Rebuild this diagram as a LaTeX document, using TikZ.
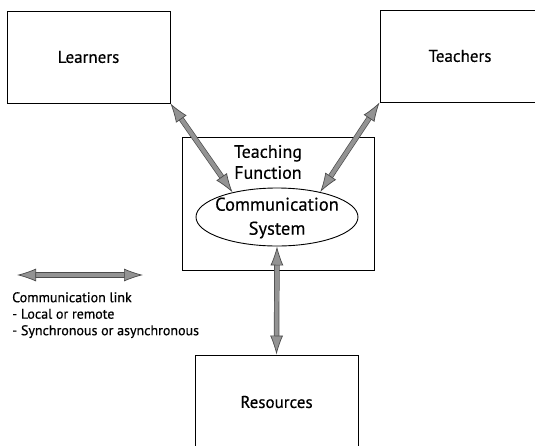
\documentclass[tikz,border=0pt]{standalone}
\usepackage{fontspec}
\setmainfont{PT Sans}[FakeBold=0.4]
\usepackage{tikz}
\usetikzlibrary{arrows.meta,shapes.geometric}

\begin{document}
\begin{tikzpicture}[x=1pt,y=-1pt,
		>={Latex[length=19pt,width=13pt,fill=gray!85,color=black!70,line width=0.7pt]},
		box/.style={draw,rectangle,line width=0.9pt,inner sep=0pt},
		link/.style={<->,draw=gray!85,line width=4pt,
			preaction={draw=black!70,line width=5.4pt,-,shorten >=14pt,shorten <=14pt}},
		lbl/.style={font=\fontsize{17}{20}\selectfont}]
				\useasboundingbox (0,0) rectangle (535,445);
				\clip (0,0) rectangle (535,445);
				\node (learn) at (88.5,57) [box,minimum width=163pt,minimum height=92pt,lbl] {Learners};
				\node (teach) at (460,56) [box,minimum width=160pt,minimum height=92pt,lbl] {Teachers};
				\node (tf) at (278,203.5) [box,minimum width=192pt,minimum height=133pt] {};
				\node (tflbl) at (268,162) [align=center,font=\fontsize{18}{21}\selectfont] {Teaching\\Function};
				\node (comm) at (277,217) [draw,ellipse,line width=0.9pt,minimum width=162pt,minimum height=58pt,inner sep=0pt] {};
				\node (commlbl) at (277,218) [align=center,font=\fontsize{18.5}{24}\selectfont] {Communication\\System};
				\node (res) at (276.5,402) [box,minimum width=163pt,minimum height=94pt,lbl] {Resources};
				\coordinate (la) at (17,275);
				\coordinate (lb) at (143,275);
				\node (legend) at (12,292) [anchor=north west,align=left,inner sep=0pt,font=\fontsize{14}{16.5}\selectfont] {Communication link\\- Local or remote\\- Synchronous or asynchronous};
				
				\draw[link] (learn.south east) -- (comm.151);
				\draw[link] (teach.south west) -- (comm.30);
				\draw[link] (comm.south) -- (res.north);
				\draw[link] (la) -- (lb);
			\end{tikzpicture}
\end{document}
